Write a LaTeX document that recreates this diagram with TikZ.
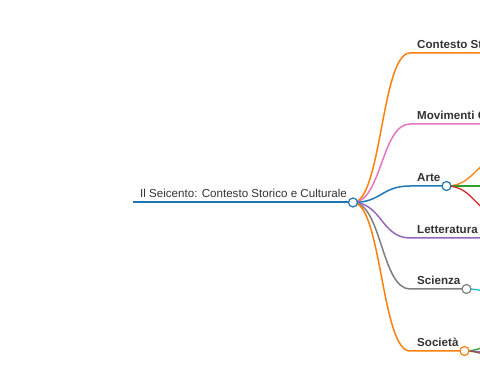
\documentclass[tikz,border=0pt]{standalone}
\usepackage{fontspec}
\setmainfont{Liberation Sans}
\usepackage{xcolor}
\definecolor{cblue}{HTML}{1F77B4}
\definecolor{corange}{HTML}{FF7F0E}
\definecolor{cgreen}{HTML}{2CA02C}
\definecolor{cred}{HTML}{D62728}
\definecolor{cpurple}{HTML}{9467BD}
\definecolor{cbrown}{HTML}{8C564B}
\definecolor{cpink}{HTML}{E377C2}
\definecolor{cgray}{HTML}{7F7F7F}
\definecolor{cteal}{HTML}{17BECF}
\definecolor{ink}{HTML}{333333}
\usepackage{tikz}
\usetikzlibrary{positioning}
\tikzset{
  lbl/.style={font=\fontsize{11.6}{14}\selectfont\bfseries, text=ink,
              anchor=base west, inner sep=0pt},
  link/.style={draw=#1, line width=1.5pt},
  twig/.style={draw=#1, line width=1.3pt},
  knob/.style={circle, draw=#1, fill=white, line width=1.2pt,
               minimum size=9pt, inner sep=0pt}
}

\begin{document}
\begin{tikzpicture}[x=1pt, y=-1pt]
  \useasboundingbox (0,0) rectangle (480,379);
  \clip (0,0) rectangle (480,379);

  %% Root
  \node[font=\fontsize{11.6}{14}\selectfont, text=ink, anchor=base, inner sep=0pt]
    (root) at (243.5,198) {Il Seicento: Contesto Storico e Culturale};
  \coordinate (rs) at (133,202.5);
  \coordinate (rc) at (353,202.5);

  %% Branch starts and knobs
  \coordinate (bcont) at (410,53);
  \coordinate (bmov)  at (410,124);
  \coordinate (barte) at (410,186);
  \coordinate (blett) at (410,238);
  \coordinate (bsci)  at (410,289);
  \coordinate (bsoc)  at (410,351);
  \coordinate (karte) at (446.5,186);
  \coordinate (ksci)  at (466.5,289);
  \coordinate (ksoc)  at (464.5,351);

  %% Labels
  \node[lbl] (cont) at (417,49)    {Contesto Storico};
  \node[lbl] (mov)  at (417,120)   {Movimenti Culturali};
  \node[lbl] (arte) at (417,182)   {Arte};
  \node[lbl] (lett) at (417,233.5) {Letteratura};
  \node[lbl] (sci)  at (417,285)   {Scienza};
  \node[lbl] (soc)  at (417,347)   {Società};

  %% Root line
  \draw[cblue, line width=2pt] (rs) -- (rc);

  %% Links to branches
  \draw[link=corange] (rc) .. controls +(28.5,0) and +(-28.5,0) .. (bcont) -- ++(90,0);
  \draw[link=cpink]   (rc) .. controls +(28.5,0) and +(-28.5,0) .. (bmov)  -- ++(90,0);
  \draw[link=cblue]   (rc) .. controls +(28.5,0) and +(-28.5,0) .. (barte) -- (karte);
  \draw[link=cpurple] (rc) .. controls +(28.5,0) and +(-28.5,0) .. (blett) -- ++(90,0);
  \draw[link=cgray]   (rc) .. controls +(28.5,0) and +(-28.5,0) .. (bsci)  -- (ksci);
  \draw[link=corange] (rc) .. controls +(28.5,0) and +(-28.5,0) .. (bsoc)  -- (ksoc);

  %% Twigs running off the edge
  \coordinate (a1) at (504,158);
  \coordinate (a2) at (504,186);
  \coordinate (a3) at (504,216);
  \draw[twig=corange] (karte) .. controls +(28.5,0) and +(-28.5,0) .. (a1);
  \draw[twig=cgreen]  (karte) -- (a2);
  \draw[twig=cred]    (karte) .. controls +(28.5,0) and +(-28.5,0) .. (a3);

  \coordinate (s1) at (524,302);
  \draw[twig=cteal] (ksci) .. controls +(28.5,0) and +(-28.5,0) .. (s1);

  \coordinate (o1) at (522,330);
  \coordinate (o2) at (522,357);
  \coordinate (o3) at (522,368);
  \draw[twig=cgreen]  (ksoc) .. controls +(28.5,0) and +(-28.5,0) .. (o1);
  \draw[twig=cpurple] (ksoc) .. controls +(28.5,0) and +(-28.5,0) .. (o2);
  \draw[twig=cbrown]  (ksoc) .. controls +(28.5,0) and +(-28.5,0) .. (o3);

  %% Knobs on top
  \node[knob=cblue]   (nroot) at (rc) {};
  \node[knob=cblue]   (narte) at (karte) {};
  \node[knob=cgray]   (nsci)  at (ksci) {};
  \node[knob=corange] (nsoc)  at (ksoc) {};

\end{tikzpicture}
\end{document}
